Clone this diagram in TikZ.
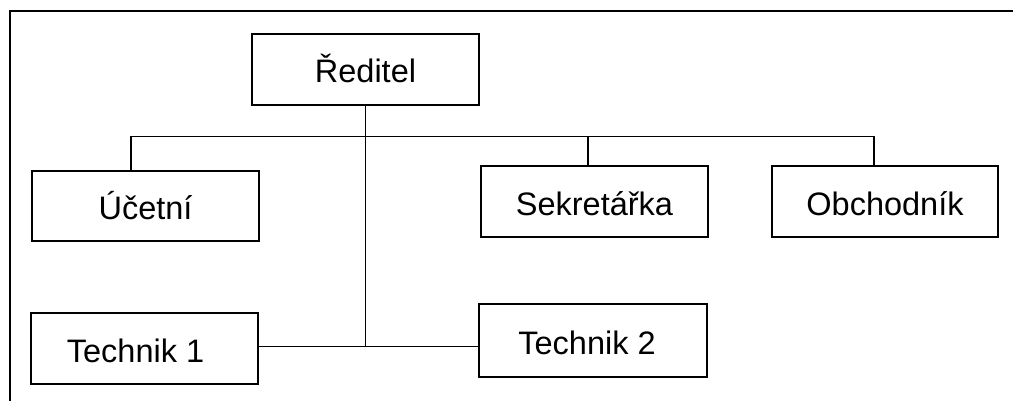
\documentclass[tikz,border=0pt]{standalone}
\usepackage{fontspec}
\setmainfont{Liberation Sans}
\begin{document}
\begin{tikzpicture}[x=1pt,y=-1pt,
  orgbox/.style={draw=black, line width=2.3pt, fill=white, inner sep=0pt,
    minimum width=227pt, minimum height=71pt,
    font=\fontsize{32.5}{37}\selectfont, text height=27pt, text depth=0pt},
  link/.style={draw=black, line width=1.9pt},
  frame/.style={draw=black, line width=2.3pt}]
\useasboundingbox (0,0) rectangle (1013,401);
% open outer frame
\draw[frame] (10,410) -- (10,11) -- (1020,11);
% boxes
\node[orgbox] (dir)  at (365.5,69.5) {Ředitel};
\node[orgbox, minimum height=70pt] (uc) at (145.5,206) {Účetní};
\node[orgbox] (sek)  at (594.5,201.5) {Sekretářka};
\node[orgbox, minimum width=226pt] (obch) at (885,201.5) {Obchodník};
\node[orgbox] (t1)   at (144.5,348.5) {Technik 1\hspace*{18pt}};
\node[orgbox, minimum width=228pt, minimum height=73pt] (t2) at (593,340.5) {Technik 2\hspace*{12pt}};
% connector points
\coordinate (bl) at (131,136.5);
\coordinate (bs) at (588,136.5);
\coordinate (br) at (874,136.5);
\coordinate (j)  at (365.5,346.5);
% connectors
\draw[link] (uc.north -| bl) -- (bl) -- (br) -- (obch.north -| br);
\draw[link] (bs) -- (sek.north -| bs);
\draw[link] (dir.south) -- (j);
\draw[link] (t1.east |- j) -- (t2.west |- j);
\end{tikzpicture}
\end{document}
